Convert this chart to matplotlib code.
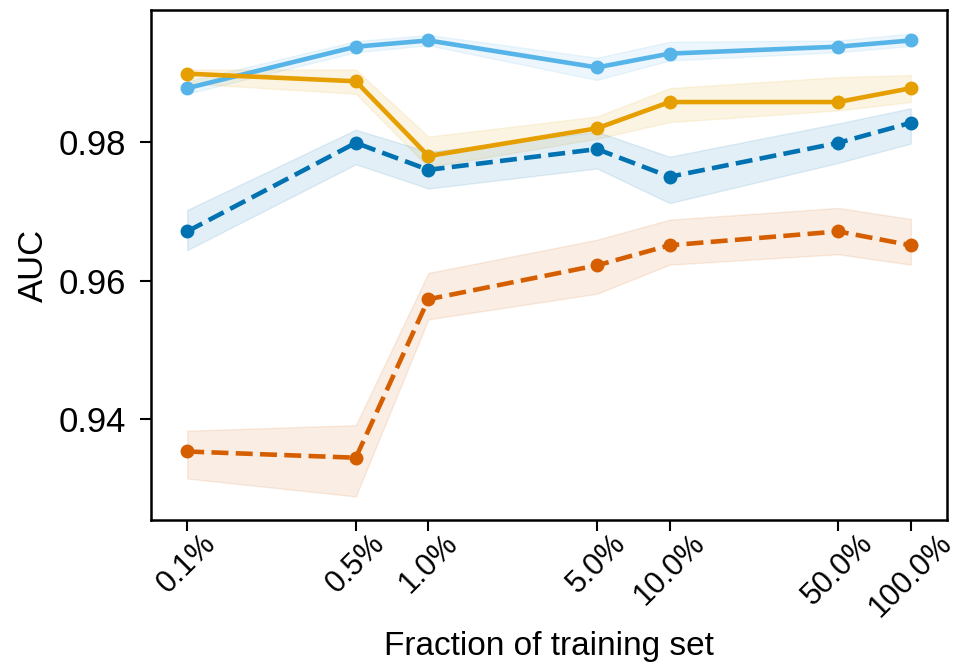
import matplotlib
matplotlib.use("Agg")
from matplotlib import pyplot as plt
import numpy as np

plt.rcParams['font.family'] = ['Liberation Sans', 'DejaVu Sans']

# fraction of training set (percent)
fractions = [0.1, 0.5, 1.0, 5.0, 10.0, 50.0, 100.0]
tick_labels = ["0.1%", "0.5%", "1.0%", "5.0%", "10.0%", "50.0%", "100.0%"]

# mean AUC and band (lower, upper) for each curve
lightblue_mean = [0.9878, 0.9938, 0.9947, 0.9908, 0.9928, 0.9938, 0.9947]
lightblue_low = [0.9870, 0.9930, 0.9940, 0.9890, 0.9918, 0.9930, 0.9939]
lightblue_high = [0.9888, 0.9946, 0.9955, 0.9922, 0.9945, 0.9947, 0.9957]

orange_mean = [0.9899, 0.9888, 0.9780, 0.9820, 0.9858, 0.9858, 0.9878]
orange_low = [0.9885, 0.9870, 0.9764, 0.9805, 0.9829, 0.9846, 0.9858]
orange_high = [0.9905, 0.9905, 0.9808, 0.9837, 0.9878, 0.9894, 0.9897]

blue_mean = [0.9671, 0.9799, 0.9760, 0.9790, 0.9750, 0.9799, 0.9828]
blue_low = [0.9644, 0.9768, 0.9733, 0.9762, 0.9712, 0.9770, 0.9798]
blue_high = [0.9702, 0.9818, 0.9786, 0.9815, 0.9779, 0.9827, 0.9849]

verm_mean = [0.9353, 0.9344, 0.9573, 0.9622, 0.9651, 0.9671, 0.9651]
verm_low = [0.9314, 0.9288, 0.9544, 0.9581, 0.9623, 0.9638, 0.9623]
verm_high = [0.9383, 0.9391, 0.9611, 0.9659, 0.9688, 0.9705, 0.9689]

fig = plt.figure(figsize=(9.59, 6.70), dpi=100)
ax = fig.add_axes([151 / 959, 1 - 520 / 670, (947 - 151) / 959, (520 - 10) / 670])

curves = [
    (lightblue_mean, lightblue_low, lightblue_high, "#56B4E9", "-"),
    (orange_mean, orange_low, orange_high, "#E69F00", "-"),
    (blue_mean, blue_low, blue_high, "#0072B2", "--"),
    (verm_mean, verm_low, verm_high, "#D55E00", "--"),
]
for mean, low, high, col, ls in curves:
    ax.fill_between(fractions, low, high, color=col, alpha=0.11, linewidth=1.0)
    ax.plot(fractions, mean, color=col, linestyle=ls, linewidth=3.3,
            marker="o", markersize=9)

ax.set_xscale("log")
ax.set_xticks(fractions)
ax.set_xticklabels(tick_labels, rotation=45, ha="center")
ax.minorticks_off()
ax.set_ylim(0.9254, 0.9991)
ax.set_yticks([0.94, 0.96, 0.98])

ax.tick_params(axis="x", labelsize=22, width=1.5, length=8, pad=-2)
ax.tick_params(axis="y", labelsize=25, width=1.5, length=8, pad=10)
for s in ax.spines.values():
    s.set_linewidth(1.8)

ax.set_xlabel("Fraction of training set", fontsize=24, labelpad=6)
ax.set_ylabel("AUC", fontsize=25, labelpad=6)

fig.savefig("out.png", dpi=100)
